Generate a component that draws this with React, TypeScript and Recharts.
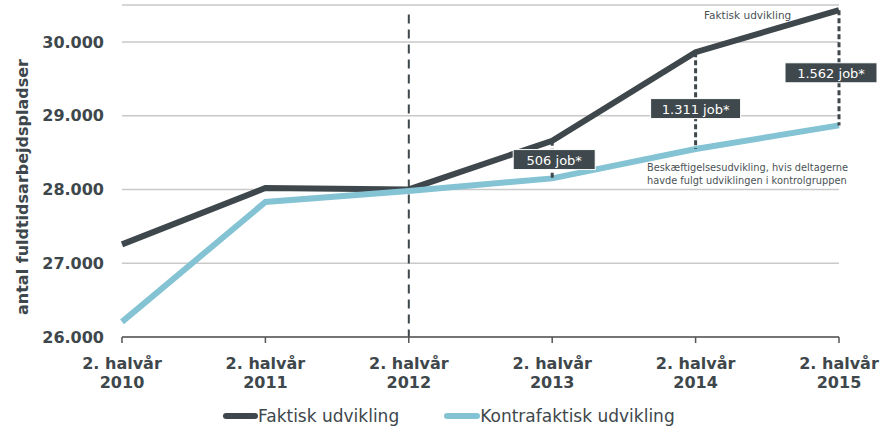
import React from 'react';
import {
  LineChart,
  Line,
  XAxis,
  YAxis,
  CartesianGrid,
  Legend,
  ReferenceLine,
  ReferenceDot,
  Customized,
} from 'recharts';

// data
const years = ['2010', '2011', '2012', '2013', '2014', '2015'];
const faktisk = [27255, 28020, 28000, 28660, 29860, 30430];
const kontrafaktisk = [26205, 27830, 27980, 28150, 28549, 28868];
const gapYears = ['2013', '2014', '2015'];
const gapLabels = ['506 job*', '1.311 job*', '1.562 job*'];
const yTicks = [26000, 27000, 28000, 29000, 30000];

const DARK = '#3e474b';
const LIGHT = '#84c3d3';
const FONT = '"DejaVu Sans", sans-serif';

// label box tweaks (style only)
const boxStyle = [
  { w: 82, dx: 2, dy: 0 },
  { w: 90, dx: 0, dy: 8 },
  { w: 92, dx: -8, dy: 5 },
];

const chartData = years.map((y, i) => ({
  year: y,
  faktisk: faktisk[i],
  kontrafaktisk: kontrafaktisk[i],
}));

const XTick = (props: any) => {
  const { x, y, payload } = props;
  return (
    <g transform={`translate(${x},${y})`}>
      <text textAnchor="middle" fontFamily={FONT} fontWeight={700} fontSize={16} fill={DARK}>
        <tspan x={0} dy={24}>2. halvår</tspan>
        <tspan x={0} dy={19}>{payload.value}</tspan>
      </text>
    </g>
  );
};

const fmt = (v: number) => v.toLocaleString('da-DK').replace(/,/g, '.');

const LegendBox = () => (
  <div
    style={{
      height: 36,
      paddingTop: 22,
      boxSizing: 'border-box',
      display: 'flex',
      alignItems: 'center',
      paddingLeft: 213,
      fontFamily: FONT,
      fontSize: 17,
      color: DARK,
      lineHeight: '18px',
    }}
  >
    <span style={{ display: 'inline-block', width: 35, height: 6, background: DARK, borderRadius: 3 }} />
    <span>Faktisk udvikling</span>
    <span style={{ display: 'inline-block', width: 36, height: 6, background: LIGHT, borderRadius: 3, marginLeft: 45 }} />
    <span>Kontrafaktisk udvikling</span>
  </div>
);

const Notes = () => (
  <g fontFamily={FONT} fill="#4a5255">
    <text x={704} y={19} fontSize={10.5}>Faktisk udvikling</text>
    <text x={647} y={171} fontSize={9.8}>Beskæftigelsesudvikling, hvis deltagerne</text>
    <text x={647} y={184} fontSize={9.8}>havde fulgt udviklingen i kontrolgruppen</text>
  </g>
);

export default function App() {
  return (
    <div style={{ position: 'absolute', left: 0, top: 0, width: 883, height: 428, background: '#fff' }}>
      <LineChart width={883} height={428} data={chartData} margin={{ top: 5, right: 44, left: 10, bottom: 5 }}>
        <CartesianGrid vertical={false} stroke="#c9c9c9" strokeWidth={1.5} />
        <XAxis
          dataKey="year"
          tick={<XTick />}
          tickSize={6}
          height={50}
          stroke="#555"
          strokeWidth={1.5}
          interval={0}
        />
        <YAxis
          domain={[26000, 30500]}
          ticks={yTicks}
          width={112}
          axisLine={false}
          tickLine={false}
          tickSize={0}
          tickMargin={18}
          tickFormatter={fmt}
          tick={{ fontFamily: FONT, fontWeight: 700, fontSize: 16, fill: DARK }}
          label={{
            value: 'antal fuldtidsarbejdspladser',
            angle: -90,
            position: 'insideLeft',
            offset: 12,
            dy: 16,
            style: { fontFamily: FONT, fontWeight: 700, fontSize: 16, fill: DARK, textAnchor: 'middle' },
          }}
        />
        <ReferenceLine
          segment={[{ x: '2012', y: 30370 }, { x: '2012', y: 26000 }]}
          stroke={DARK}
          strokeWidth={2}
          strokeDasharray="9 6"
        />
        <Line dataKey="faktisk" stroke={DARK} strokeWidth={6} dot={false} isAnimationActive={false} />
        <Line dataKey="kontrafaktisk" stroke={LIGHT} strokeWidth={6} dot={false} isAnimationActive={false} />
        {gapYears.map((yr) => {
          const idx = years.indexOf(yr);
          return (
            <ReferenceLine
              key={'g' + yr}
              segment={[{ x: yr, y: faktisk[idx] }, { x: yr, y: kontrafaktisk[idx] }]}
              stroke={DARK}
              strokeWidth={3}
              strokeDasharray="5 3"
            />
          );
        })}
        {gapYears.map((yr, i) => {
          const idx = years.indexOf(yr);
          const st = boxStyle[i];
          return (
            <ReferenceDot
              key={'l' + yr}
              x={yr}
              y={(faktisk[idx] + kontrafaktisk[idx]) / 2}
              r={0}
              shape={(p: any) => (
                <g transform={`translate(${p.cx + st.dx},${p.cy + st.dy})`}>
                  <rect x={-st.w / 2} y={-10} width={st.w} height={20} fill="#3f494d" stroke="#fff" strokeWidth={1} />
                  <text x={0} y={5} textAnchor="middle" fontFamily={FONT} fontSize={13} fill="#fff">
                    {gapLabels[i]}
                  </text>
                </g>
              )}
            />
          );
        })}
        <Customized component={Notes} />
        <Legend verticalAlign="bottom" content={<LegendBox />} />
      </LineChart>
    </div>
  );
}
